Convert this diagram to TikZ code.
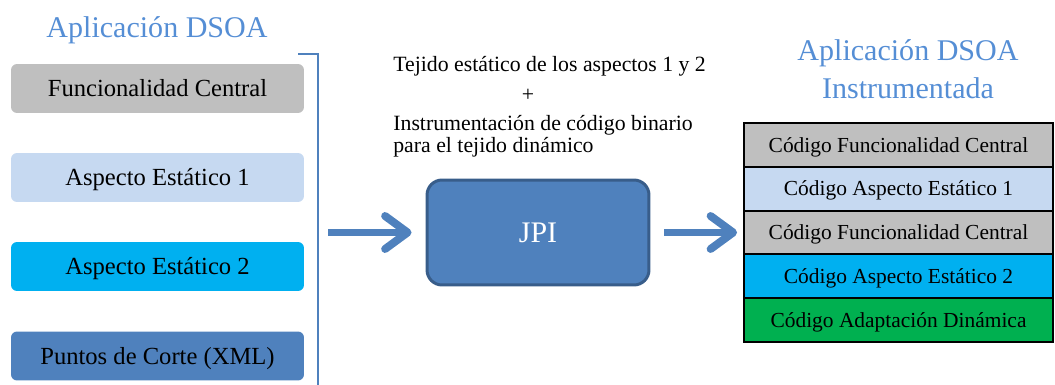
\documentclass[tikz,border=0pt]{standalone}
\usepackage{fontspec}
\setmainfont{Liberation Serif}
\usepackage{tikz}
\usetikzlibrary{arrows.meta}
\usepackage{xcolor}
\definecolor{grisfc}{HTML}{BFBFBF}
\definecolor{azulclaro}{HTML}{C6D9F1}
\definecolor{cian}{HTML}{00B0F0}
\definecolor{azulmedio}{HTML}{4F81BD}
\definecolor{azulborde}{HTML}{385D8A}
\definecolor{verde}{HTML}{00B050}
\definecolor{azultitulo}{HTML}{558ED5}

\begin{document}
\begin{tikzpicture}[x=0.02cm, y=-0.02cm,
	caja/.style={rounded corners=0.12cm, minimum width=5.86cm, minimum height=0.98cm, text height=9.3pt, text depth=0pt, font=\fontsize{14}{16}\selectfont},
	fila/.style={draw=black, line width=1.1pt, minimum width=6.18cm, minimum height=0.876cm, text height=8.1pt, text depth=0pt, font=\fontsize{12.2}{14}\selectfont},
	titulo/.style={text=azultitulo, align=center, font=\fontsize{17.1}{21.5}\selectfont},
	nota/.style={font=\fontsize{12.4}{12.5}\selectfont, inner sep=0pt},
	flecha/.style={draw=azulmedio, line width=4.5pt, -{Straight Barb[length=4.5mm, width=6.6mm, round]}}]
	\useasboundingbox (0, 0) rectangle (1055, 385);

	% aplicacion de entrada
	\node (tit1) [titulo] at (157, 30) {Aplicación DSOA};
	\node (fc) [caja, fill=grisfc] at (157.5, 88.5) {Funcionalidad Central};
	\node (ae1) [caja, fill=azulclaro] at (157.5, 177.5) {Aspecto Estático 1};
	\node (ae2) [caja, fill=cian] at (157.5, 266.5) {Aspecto Estático 2};
	\node (pc) [caja, fill=azulmedio] at (157.5, 356) {Puntos de Corte (XML)};
	\draw[azulmedio, line width=1.1pt] (298, 54) -- (318, 54) -- (318, 385);

	% tejedor
	\node (tejido) [nota, anchor=west] at (393, 66) {Tejido estático de los aspectos 1 y 2};
	\node (mas) [nota] at (528, 95) {+};
	\node (instr) [nota, anchor=north west, align=left] at (393, 115) {Instrumentación de código binario\\para el tejido dinámico};
	\node (jpi) [draw=azulborde, line width=1.7pt, fill=azulmedio, rounded corners=0.3cm, minimum width=4.44cm, minimum height=2.1cm, text height=11.3pt, text depth=0pt, text=white, font=\fontsize{17}{20}\selectfont] at (538, 232.5) {JPI};

	% aplicacion instrumentada
	\node (tit2) [titulo] at (908, 69) {Aplicación DSOA\\Instrumentada};
	\node (cfc1) [fila, fill=grisfc] at (898.5, 144.9) {Código Funcionalidad Central};
	\node (cae1) [fila, fill=azulclaro] at (898.5, 188.7) {Código Aspecto Estático 1};
	\node (cfc2) [fila, fill=grisfc] at (898.5, 232.5) {Código Funcionalidad Central};
	\node (cae2) [fila, fill=cian] at (898.5, 276.3) {Código Aspecto Estático 2};
	\node (cad) [fila, fill=verde] at (898.5, 320.1) {Código Adaptación Dinámica};

	\coordinate (entrada) at (328, 232.5);
	\draw[flecha, shorten >=0.28cm] (entrada) -- (jpi.west);
	\draw[flecha, shorten <=0.28cm, shorten >=0.12cm] (jpi.east) -- (cfc2.west);
\end{tikzpicture}
\end{document}
